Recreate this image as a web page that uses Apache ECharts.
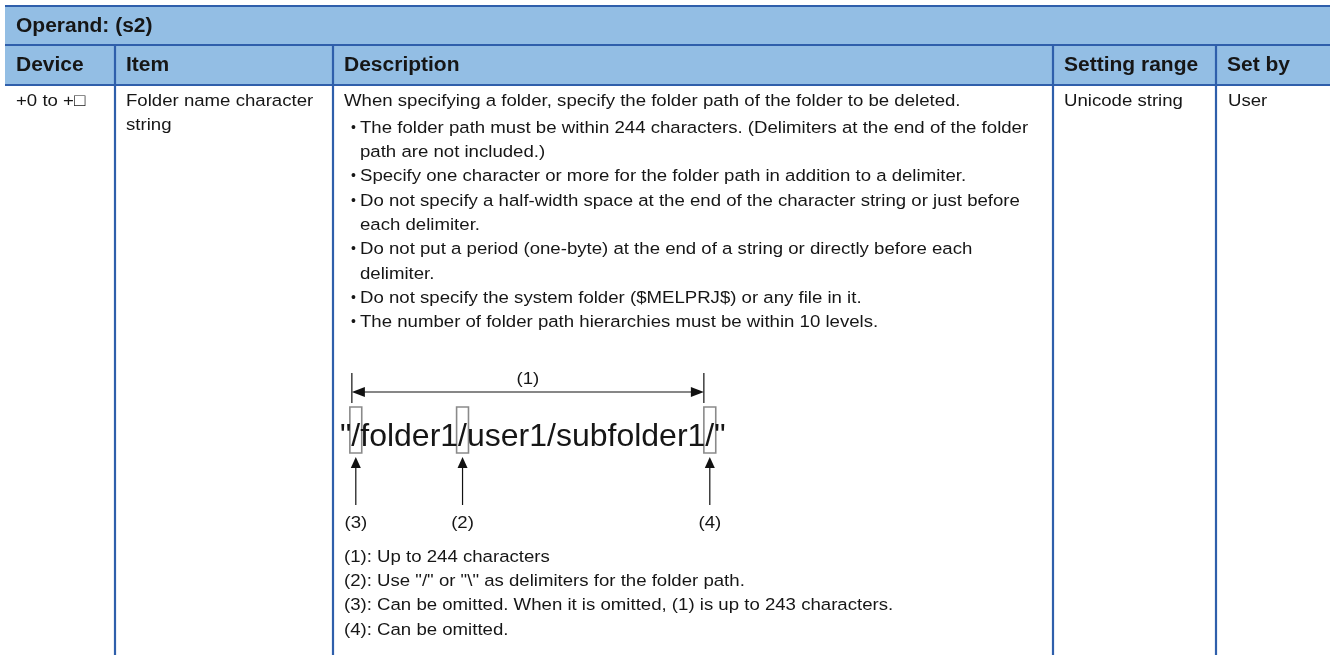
<!DOCTYPE html>
<html><head><meta charset="utf-8">
<script src="https://cdn.jsdelivr.net/npm/echarts@6/dist/echarts.min.js"></script>
<style>html,body{margin:0;padding:0;background:#fff}#c{width:1330px;height:655px}</style>
</head><body><div id="c"></div>
<script>
// ---- content ----
const titleText = 'Operand: (s2)';
const headers = ['Device', 'Item', 'Description', 'Setting range', 'Set by'];
const deviceLines = ['+0 to +\u25A1'];
const itemLines = ['Folder name character', 'string'];
const descIntro = 'When specifying a folder, specify the folder path of the folder to be deleted.';
const descBullets = [
  ['The folder path must be within 244 characters. (Delimiters at the end of the folder', 'path are not included.)'],
  ['Specify one character or more for the folder path in addition to a delimiter.'],
  ['Do not specify a half-width space at the end of the character string or just before', 'each delimiter.'],
  ['Do not put a period (one-byte) at the end of a string or directly before each', 'delimiter.'],
  ['Do not specify the system folder ($MELPRJ$) or any file in it.'],
  ['The number of folder path hierarchies must be within 10 levels.']
];
const pathString = '"/folder1/user1/subfolder1/"';
const markedChars = [1, 9, 26];           // character indexes of the marked delimiters
const markerLabels = ['(3)', '(2)', '(4)'];
const spanLabel = '(1)';
const notes = [
  '(1): Up to 244 characters',
  '(2): Use "/" or "\\" as delimiters for the folder path.',
  '(3): Can be omitted. When it is omitted, (1) is up to 243 characters.',
  '(4): Can be omitted.'
];
const settingRange = ['Unicode string'];
const setBy = ['User'];

// ---- layout ----
const FONT = "'Liberation Sans', Arial, Helvetica, sans-serif";
const BORDER = '#2f5fab';
const HEAD_FILL = '#93bee4';
const colX = [5, 115, 333, 1053, 1216, 1330];
const rowY = [6, 45, 85, 655];
const BODY = 17.4, BODY_SX = 1.07;
const HEAD = 20, HEAD_SX = 1.05;

const chart = echarts.init(document.getElementById('c'), null, {renderer: 'canvas'});
const g = [];

function txt(x, y, s, opt) {
  opt = opt || {};
  g.push({type: 'text', x: x, y: y, silent: true, z: 10, scaleX: opt.sx || BODY_SX,
    style: {text: s, fill: opt.fill || '#161616', font: (opt.weight || 'normal') + ' ' + (opt.size || BODY) + 'px ' + FONT,
      textAlign: opt.align || 'left', textVerticalAlign: 'middle', verticalAlign: 'middle'}});
}
function line(x1, y1, x2, y2, stroke, w) {
  g.push({type: 'line', silent: true, z: 5, shape: {x1: x1, y1: y1, x2: x2, y2: y2}, style: {stroke: stroke, lineWidth: w}});
}
function tri(points, fill) {
  g.push({type: 'polygon', silent: true, z: 6, shape: {points: points}, style: {fill: fill}});
}

// header fill
g.push({type: 'rect', silent: true, z: 1, shape: {x: colX[0], y: rowY[0], width: colX[5] - colX[0], height: rowY[2] - rowY[0]}, style: {fill: HEAD_FILL}});
// horizontal borders
[rowY[0], rowY[1], rowY[2]].forEach(function (y) { line(colX[0], y, colX[5], y, BORDER, 2.2); });
// vertical borders
for (let i = 1; i < 5; i++) line(colX[i], rowY[1], colX[i], rowY[3], BORDER, 2.2);

// title + headers
txt(16, 26, titleText, {weight: 'bold', size: HEAD, sx: HEAD_SX});
headers.forEach(function (h, i) { txt(colX[i] + 11, 65, h, {weight: 'bold', size: HEAD, sx: HEAD_SX}); });

// body cells
const L = 24.3;
deviceLines.forEach(function (s, i) { txt(16, 101 + i * L, s); });
itemLines.forEach(function (s, i) { txt(126, 101 + i * L, s); });
settingRange.forEach(function (s, i) { txt(1064, 101 + i * L, s); });
setBy.forEach(function (s, i) { txt(1228, 101 + i * L, s); });

txt(344, 101, descIntro);
let y = 128;
descBullets.forEach(function (b) {
  txt(351, y, '\u2022', {size: 14, sx: 1});
  b.forEach(function (s) { txt(360, y, s); y += L; });
});

// diagram
const BIG = 32;
const bigX = 340, bigY = 437;
txt(bigX, bigY, pathString, {size: BIG, sx: 1});
const cv = document.createElement('canvas').getContext('2d');
cv.font = BIG + 'px ' + FONT;
const slashX = markedChars.map(function (k) { return bigX + cv.measureText(pathString.slice(0, k)).width; });
const slashW = cv.measureText('/').width;
slashX.forEach(function (sx, i) {
  g.push({type: 'rect', silent: true, z: 7, shape: {x: sx - 1.5, y: 407, width: slashW + 3, height: 46},
    style: {fill: 'none', stroke: '#8a8a8a', lineWidth: 1.6}});
  const cx = sx + slashW / 2;
  tri([[cx, 457], [cx - 5, 468], [cx + 5, 468]], '#111');
  line(cx, 467, cx, 505, '#111', 1.2);
  txt(cx, 523, markerLabels[i], {align: 'center'});
});
const xa = slashX[0] + 0.5, xb = slashX[2] - 1.5;
line(xa, 373, xa, 403, '#111', 1.2);
line(xb, 373, xb, 403, '#111', 1.2);
line(xa + 10, 392, xb - 10, 392, '#111', 1.2);
tri([[xa, 392], [xa + 13, 387], [xa + 13, 397]], '#111');
tri([[xb, 392], [xb - 13, 387], [xb - 13, 397]], '#111');
txt((xa + xb) / 2, 379, spanLabel, {align: 'center'});

notes.forEach(function (s, i) { txt(344, 557 + i * L, s); });

chart.setOption({animation: false, graphic: {elements: g}});
</script></body></html>
